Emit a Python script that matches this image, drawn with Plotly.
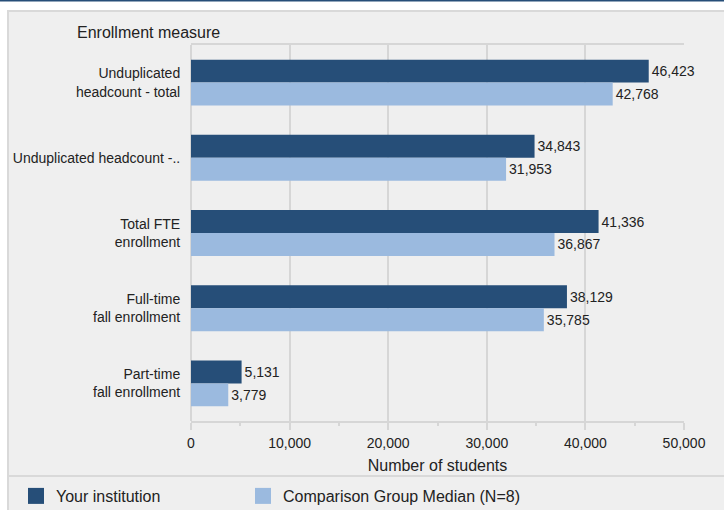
import plotly.graph_objects as go

categories = [
    "Unduplicated<br>headcount - total",
    "Unduplicated headcount -..",
    "Total FTE<br>enrollment",
    "Full-time<br>fall enrollment",
    "Part-time<br>fall enrollment",
]
your_institution = [46423, 34843, 41336, 38129, 5131]
comparison_median = [42768, 31953, 36867, 35785, 3779]
series_names = ["Your institution", "Comparison Group Median (N=8)"]
x_tick_values = [0, 10000, 20000, 30000, 40000, 50000]

DARK = "#264e78"
LIGHT = "#9bbadf"
PANEL = "#efefef"
GRID = "#d6d6d6"
TEXT = "#222222"
FONT = "Liberation Sans, Arial, sans-serif"

W, H = 724, 510
L, R, T, B = 191, 40, 45, 89
PW, PH = W - L - R, H - T - B


def px(x):
    return (x - L) / PW


def py(y):
    return (H - B - y) / PH


fig = go.Figure()
for name, vals, col, lg in [(series_names[0], your_institution, DARK, "legend"),
                            (series_names[1], comparison_median, LIGHT, "legend2")]:
    fig.add_trace(go.Bar(
        y=categories, x=vals, orientation="h", name=name,
        marker=dict(color=col, line=dict(width=0)),
        text=vals, texttemplate="%{x:,}", textposition="outside",
        textfont=dict(size=14, color=TEXT, family=FONT),
        cliponaxis=False, showlegend=False, hoverinfo="skip",
    ))
    fig.add_trace(go.Scatter(
        x=[None], y=[None], mode="markers", name=name, legend=lg,
        marker=dict(symbol="square", size=16, color=col),
        showlegend=True, hoverinfo="skip",
    ))

shapes = [
    dict(type="rect", xref="paper", yref="paper", x0=px(8), x1=px(730),
         y0=py(11), y1=py(520), fillcolor=PANEL,
         line=dict(color="#d9d9d9", width=2), layer="below"),
    dict(type="line", xref="paper", yref="paper", x0=px(0), x1=px(724),
         y0=py(0.5), y1=py(0.5), line=dict(color=DARK, width=2)),
    dict(type="line", xref="paper", yref="paper", x0=px(8), x1=px(724),
         y0=py(476), y1=py(476), line=dict(color="#d9d9d9", width=2)),
]

legend_common = dict(orientation="h", yanchor="middle", xanchor="left",
                     font=dict(size=16, color=TEXT),
                     bgcolor="rgba(0,0,0,0)", itemclick=False)

fig.update_layout(
    width=W, height=H,
    margin=dict(l=L, r=R, t=T, b=B, pad=0, autoexpand=False),
    paper_bgcolor="white", plot_bgcolor="rgba(0,0,0,0)",
    font=dict(family=FONT, size=14, color=TEXT),
    barmode="group", bargap=0.39, bargroupgap=0,
    shapes=shapes,
    annotations=[dict(text="Enrollment measure", xref="paper", yref="paper",
                      x=px(75), y=py(32), xanchor="left", yanchor="middle",
                      showarrow=False, font=dict(size=16, color=TEXT))],
    legend=dict(x=px(16), y=py(496), **legend_common),
    legend2=dict(x=px(243), y=py(496), **legend_common),
    xaxis=dict(range=[0, 50000], tickvals=x_tick_values, tickformat=",",
               showgrid=True, gridcolor=GRID, gridwidth=2,
               zeroline=True, zerolinecolor=GRID, zerolinewidth=2,
               showline=True, linecolor=GRID, linewidth=2, mirror=True,
               ticks="outside", ticklen=7, tickwidth=2, tickcolor=GRID,
               minor=dict(dtick=5000, ticks="outside", ticklen=3,
                          tickwidth=2, tickcolor=GRID, showgrid=False),
               tickfont=dict(size=14, color=TEXT),
               ticklabelstandoff=1, automargin=False,
               title=dict(text="Number of students", standoff=10,
                          font=dict(size=16, color=TEXT)),
               fixedrange=True),
    yaxis=dict(autorange="reversed", showgrid=False, zeroline=False,
               showline=False, ticks="outside", ticklen=7,
               tickcolor="rgba(0,0,0,0)", automargin=False,
               tickfont=dict(size=14, color=TEXT), fixedrange=True),
)

fig.write_html(
    "out.html",
    config={"displayModeBar": False},
    post_script="document.body.style.margin='0';document.body.style.padding='0';",
)
